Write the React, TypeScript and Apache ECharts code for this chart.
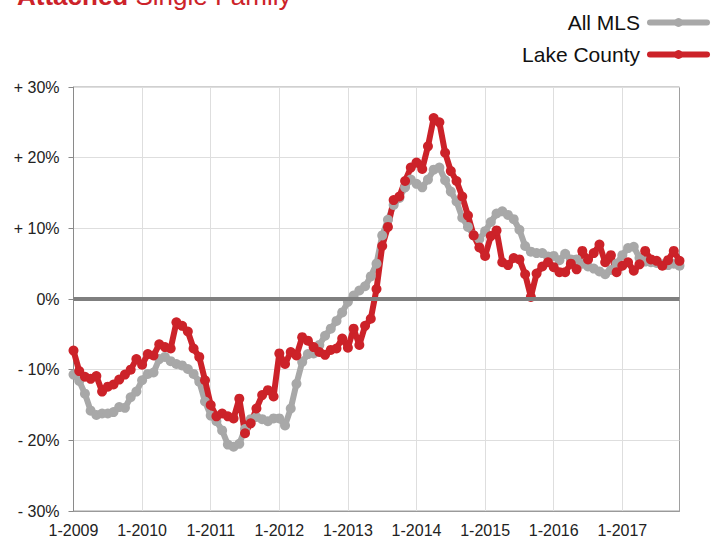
import React, { useEffect, useRef } from 'react';
import * as echarts from 'echarts';

const START_YEAR = 2009;
const MONTH_COUNT = 107; // 1-2009 .. 11-2017

const categories: string[] = [];
for (let i = 0; i < MONTH_COUNT; i++) {
  categories.push(`${(i % 12) + 1}-${START_YEAR + Math.floor(i / 12)}`);
}

const seriesNames = ['All MLS', 'Lake County'];

const allMLS = [
  -10.7, -11.6, -13.4, -15.8, -16.4, -16.2, -16.2, -16.0, -15.3, -15.4, -13.9, -13.1,
  -11.5, -10.6, -10.4, -8.5, -8.2, -8.8, -9.2, -9.4, -9.9, -10.6, -11.7, -14.5,
  -16.5, -17.3, -18.6, -20.6, -20.9, -20.5, -18.4, -17.0, -16.7, -17.0, -17.3, -16.9,
  -16.9, -17.9, -15.5, -12.0, -8.9, -7.8, -7.7, -6.5, -5.2, -4.2, -3.1, -1.9,
  -0.4, 0.5, 1.2, 1.8, 3.2, 5.0, 9.0, 11.2, 13.3, 14.3, 15.8, 16.9,
  16.3, 15.8, 16.9, 18.3, 18.6, 16.8, 15.2, 13.8, 11.5, 10.2, 9.0, 8.5,
  9.6, 10.9, 12.1, 12.4, 11.9, 11.3, 9.8, 7.5, 6.7, 6.5, 6.5, 6.0,
  6.1, 5.5, 6.4, 5.6, 5.6, 5.0, 4.6, 4.3, 3.9, 3.5, 4.1, 5.0,
  6.2, 7.2, 7.4, 5.8, 5.3, 5.2, 5.1, 4.9, 4.8, 5.0, 4.7,
];

const lakeCounty = [
  -7.3, -10.2, -11.0, -11.3, -10.9, -13.1, -12.4, -12.1, -11.4, -10.7, -10.0, -8.5,
  -9.3, -7.8, -8.0, -6.4, -6.8, -7.0, -3.3, -3.8, -4.6, -7.0, -8.2, -11.5,
  -15.0, -16.6, -16.2, -16.6, -16.9, -14.1, -19.0, -17.6, -15.5, -13.6, -12.9, -13.8,
  -7.7, -9.2, -7.5, -8.0, -5.4, -5.9, -6.8, -7.5, -7.9, -7.2, -7.0, -5.6,
  -6.9, -4.2, -6.5, -3.8, -2.8, 1.4, 7.5, 10.2, 14.0, 14.5, 16.7, 18.6,
  19.3, 18.4, 21.6, 25.6, 25.0, 20.7, 18.1, 16.7, 14.5, 11.8, 9.0, 7.3,
  6.1, 8.9, 9.7, 5.2, 4.8, 5.8, 5.6, 3.5, 0.3, 3.6, 4.6, 5.2,
  4.5, 3.8, 3.8, 5.0, 4.2, 6.8, 5.6, 6.5, 7.7, 5.2, 6.2, 3.8,
  4.7, 5.2, 4.0, 4.9, 6.8, 5.6, 5.4, 4.7, 5.5, 6.8, 5.4,
];

const Y_MIN = -30;
const Y_MAX = 30;
const Y_STEP = 10;

const FONT = '"Liberation Sans", Arial, Helvetica, sans-serif';
const RED = '#cc2229';
const GRAY = '#a8a8a8';

export default function App() {
  const ref = useRef<HTMLDivElement>(null);

  useEffect(() => {
    document.body.style.margin = '0';
    if (!ref.current) return;
    const chart = echarts.init(ref.current, undefined, { renderer: 'svg' });
    const option: any = {
      animation: false,
      backgroundColor: '#ffffff',
      textStyle: { fontFamily: FONT },
      graphic: [
        {
          type: 'text',
          left: 17,
          top: -17,
          style: {
            text: '{b|Attached} Single Family',
            fill: RED,
            font: `26px ${FONT}`,
            rich: {
              b: { fontWeight: 'bold', fontSize: 26, fontFamily: FONT, fill: RED },
            },
          },
        },
      ],
      legend: {
        orient: 'vertical',
        right: 3,
        top: 7,
        align: 'right',
        itemWidth: 57,
        itemHeight: 11,
        itemGap: 11,
        data: seriesNames,
        lineStyle: { width: 6, cap: 'round' },
        textStyle: { fontSize: 21, color: '#111', fontFamily: FONT, lineHeight: 21, padding: [0, 5, 0, 0] },
      },
      grid: {
        left: 73.5,
        right: 38.5,
        top: 87,
        bottom: 25,
        show: true,
        borderColor: '#a0a0a0',
        borderWidth: 1,
      },
      xAxis: {
        type: 'category',
        data: categories,
        boundaryGap: false,
        axisLine: { show: true, onZero: false, lineStyle: { color: '#9a9a9a', width: 1 } },
        axisTick: { show: false },
        axisLabel: { interval: 11, fontSize: 16, color: '#222', margin: 11, fontFamily: FONT },
        splitLine: { show: true, interval: 11, lineStyle: { color: '#dedede', width: 1 } },
      },
      yAxis: {
        type: 'value',
        min: Y_MIN,
        max: Y_MAX,
        interval: Y_STEP,
        axisLine: { show: true, lineStyle: { color: '#8a8a8a', width: 1 } },
        axisTick: { show: true, length: 5, lineStyle: { color: '#8a8a8a' } },
        axisLabel: {
          fontSize: 16,
          color: '#222',
          margin: 14,
          fontFamily: FONT,
          formatter: (v: number) => (v > 0 ? `+ ${v}%` : v < 0 ? `- ${-v}%` : '0%'),
        },
        splitLine: { show: true, lineStyle: { color: '#dedede', width: 1 } },
      },
      series: [
        {
          name: seriesNames[0],
          type: 'line',
          data: allMLS,
          symbol: 'circle',
          symbolSize: 10,
          showSymbol: true,
          showAllSymbol: true,
          color: GRAY,
          lineStyle: { color: GRAY, width: 6, cap: 'round', join: 'round' },
          itemStyle: { color: GRAY },
          markLine: {
            silent: true,
            symbol: ['none', 'none'],
            label: { show: false },
            lineStyle: { color: '#7f7f7f', width: 4, type: 'solid' },
            data: [{ yAxis: 0 }],
          },
        },
        {
          name: seriesNames[1],
          type: 'line',
          data: lakeCounty,
          symbol: 'circle',
          symbolSize: 10,
          showSymbol: true,
          showAllSymbol: true,
          color: RED,
          lineStyle: { color: RED, width: 6, cap: 'round', join: 'round' },
          itemStyle: { color: RED },
        },
      ],
    };
    chart.setOption(option);
    return () => chart.dispose();
  }, []);

  return <div ref={ref} style={{ width: 718, height: 538 }} />;
}
